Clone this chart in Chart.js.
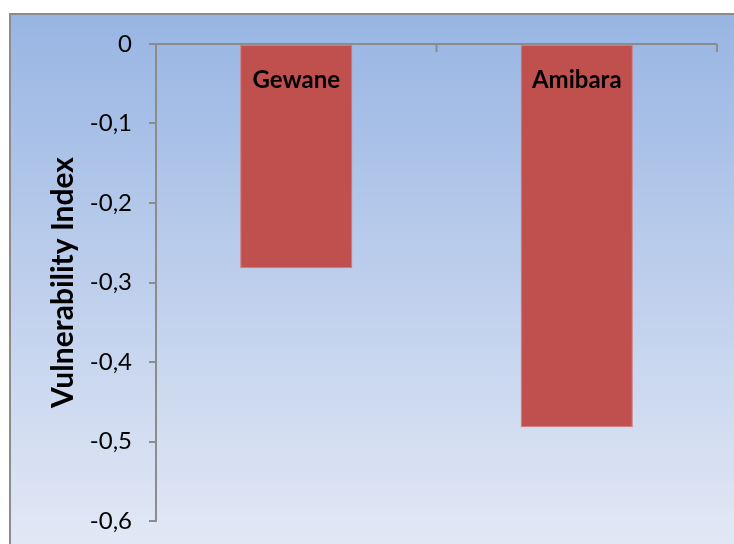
<!DOCTYPE html>
<html>
<head>
<meta charset="utf-8">
<script src="https://cdn.jsdelivr.net/npm/chart.js@4"></script>
<style>
    html, body { margin: 0; padding: 0; background: #ffffff; }
    #wrap { position: absolute; left: 0; top: 0; width: 734px; height: 544px; }
</style>
</head>
<body>
<div id="wrap"><canvas id="vulnChart" width="734" height="544"></canvas></div>
<script>
// Distritos e índice de vulnerabilidade
const districts = ['Gewane', 'Amibara'];
const vulnerability = [-0.282, -0.482];
const yTicks = [0, -0.1, -0.2, -0.3, -0.4, -0.5, -0.6];

// Fundo em degradê e moldura cinza
const backgroundPlugin = {
    id: 'chartBackground',
    beforeDraw(chart) {
        const c = chart.ctx;
        const w = chart.width, h = chart.height;
        c.save();
        c.fillStyle = '#ffffff';
        c.fillRect(0, 0, w, h);
        const g = c.createLinearGradient(0, 14, 0, h);
        g.addColorStop(0, '#98b5e3');
        g.addColorStop(1, '#e2e8f5');
        c.fillStyle = g;
        c.fillRect(10, 14, w - 10, h - 14);
        c.strokeStyle = '#8c8c8c';
        c.lineWidth = 2;
        c.beginPath();
        c.moveTo(10, h);
        c.lineTo(10, 14);
        c.lineTo(w, 14);
        c.stroke();
        c.restore();
    }
};

// Nome do distrito dentro da barra, perto do topo
const labelPlugin = {
    id: 'barLabels',
    afterDatasetsDraw(chart) {
        const c = chart.ctx;
        const y0 = chart.scales.y.getPixelForValue(0);
        const meta = chart.getDatasetMeta(0);
        c.save();
        c.font = 'bold 24px Lato';
        c.fillStyle = '#000000';
        c.textAlign = 'center';
        c.textBaseline = 'middle';
        meta.data.forEach(function(bar, i) {
            c.fillText(districts[i], bar.x, y0 + 36);
        });
        c.restore();
    }
};

const ctx = document.getElementById('vulnChart').getContext('2d');
new Chart(ctx, {
    type: 'bar',
    data: {
        labels: districts,
        datasets: [{
            data: vulnerability,
            backgroundColor: '#c0504d',
            borderColor: '#d2797a',
            borderWidth: 1,
            borderSkipped: false,
            categoryPercentage: 1,
            barPercentage: 0.4
        }]
    },
    options: {
        responsive: false,
        animation: false,
        layout: { padding: { left: 10, top: 44, right: 17, bottom: 23 } },
        plugins: {
            legend: { display: false },
            tooltip: { enabled: false }
        },
        scales: {
            x: {
                display: false
            },
            y: {
                min: -0.6,
                max: 0,
                afterBuildTicks(axis) {
                    axis.ticks = yTicks.map(v => ({ value: v }));
                },
                afterFit(axis) {
                    axis.width = 146;
                    axis.paddingTop = 0;
                    axis.paddingBottom = 0;
                },
                ticks: {
                    padding: 17,
                    color: '#000000',
                    font: { family: 'Lato', size: 24 },
                    callback: v => String(v).replace('.', ',')
                },
                grid: {
                    drawOnChartArea: false,
                    tickLength: 7,
                    color: '#8c8c8c',
                    lineWidth: 2
                },
                border: { color: '#8c8c8c', width: 2 },
                title: {
                    display: true,
                    text: 'Vulnerability Index',
                    color: '#000000',
                    font: { family: 'Lato', size: 30, weight: 'bold' },
                    padding: { top: 35, bottom: 0 }
                }
            }
        }
    },
    plugins: [backgroundPlugin, labelPlugin, {
        // Eixo horizontal no zero com marcas entre as categorias
        id: 'zeroAxis',
        afterDatasetsDraw(chart) {
            const c = chart.ctx;
            const area = chart.chartArea;
            const y0 = chart.scales.y.getPixelForValue(0);
            const xs = chart.scales.x;
            c.save();
            c.strokeStyle = '#8c8c8c';
            c.lineWidth = 2;
            c.beginPath();
            c.moveTo(area.left, y0);
            c.lineTo(area.right, y0);
            [0.5, 1.5].forEach(function(v) {
                const px = xs.getPixelForValue(v);
                c.moveTo(px, y0);
                c.lineTo(px, y0 + 8);
            });
            c.moveTo(area.right, y0);
            c.lineTo(area.right, y0 + 8);
            c.stroke();
            c.restore();
        }
    }]
});
</script>
</body>
</html>
